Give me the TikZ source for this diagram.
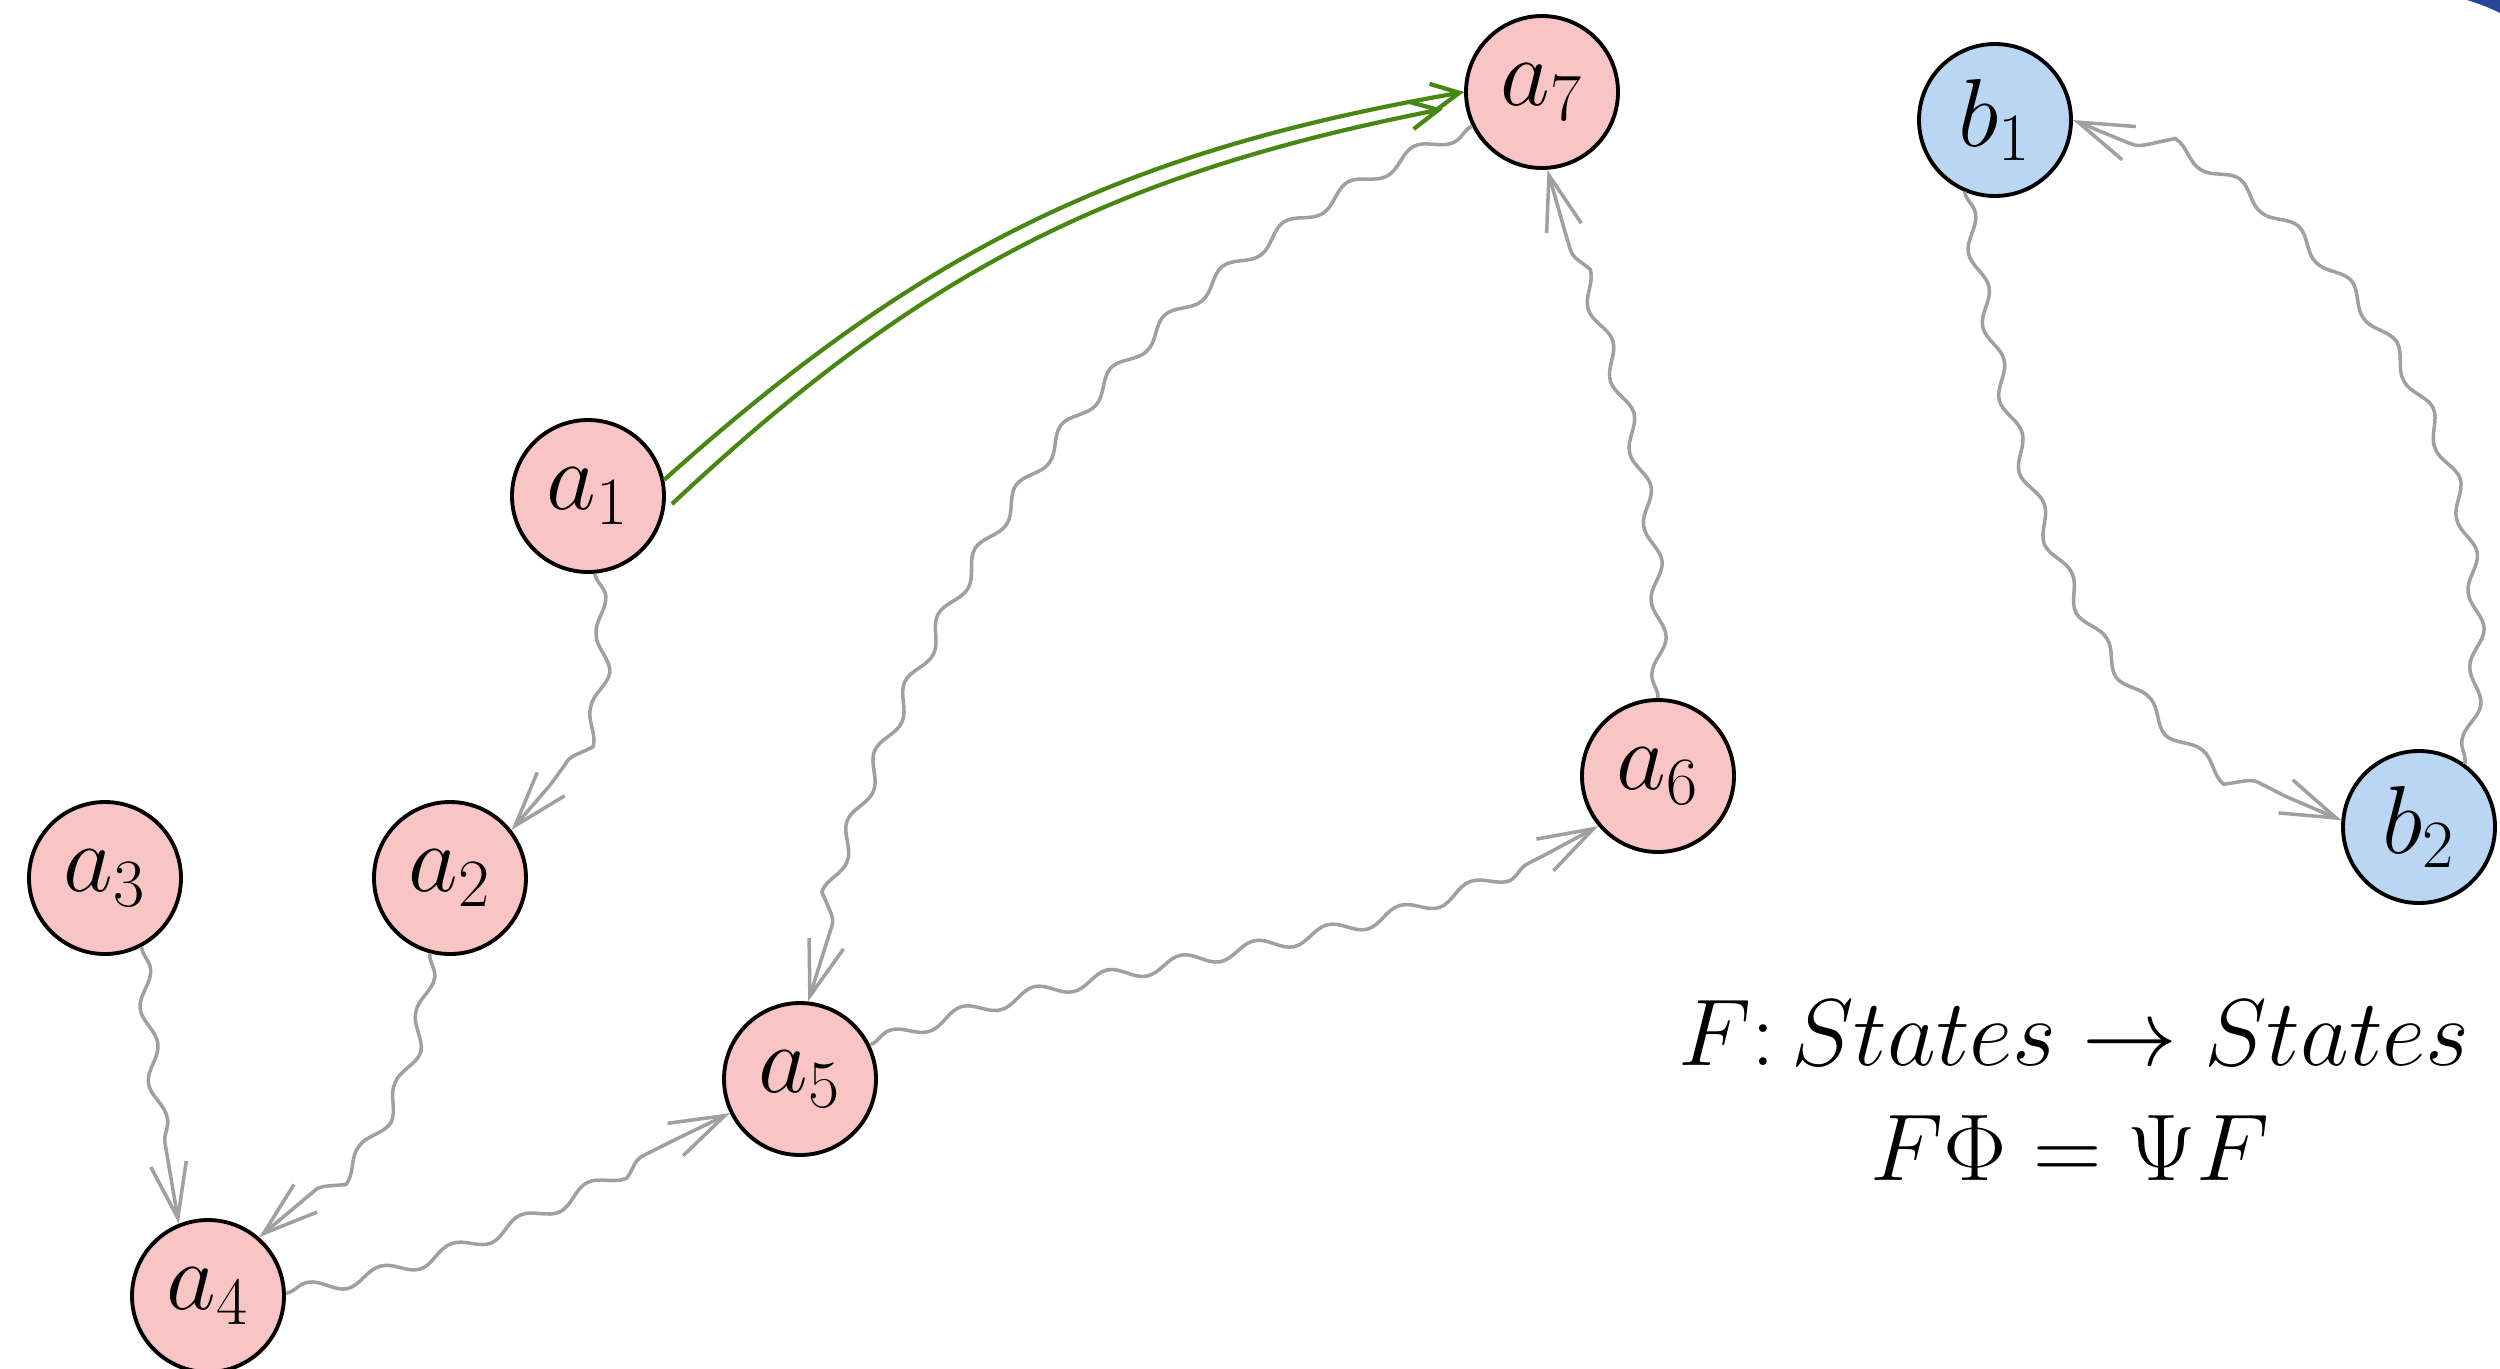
\RequirePackage{fix-cm}
\documentclass[tikz,border=0pt]{standalone}
\usetikzlibrary{arrows.meta,decorations.pathmorphing,calc}
\definecolor{nodepink}{RGB}{248,196,196}
\definecolor{nodeblue}{RGB}{186,214,242}
\definecolor{wavegray}{RGB}{160,160,160}
\definecolor{arrowgreen}{RGB}{72,135,18}
\definecolor{cornerblue}{RGB}{40,70,150}
\tikzset{
  state/.style={circle, draw=black, line width=1.1pt, minimum size=1.52cm, inner sep=0pt, font=\fontsize{27.5}{33}\selectfont},
  pinkstate/.style={state, fill=nodepink},
  bluestate/.style={state, fill=nodeblue},
  wave/.style={draw=wavegray, line width=1pt, -{Straight Barb[length=5.5mm,width=3.6mm]},
    decorate, decoration={snake, amplitude=0.7mm, segment length=7.5mm, post length=6mm}},
  imply/.style={draw=arrowgreen, line width=1.2pt, -{Straight Barb[length=2.8mm,width=2.8mm]}},
  formula/.style={anchor=base, inner sep=0pt, font=\fontsize{27}{33}\selectfont}
}
\begin{document}
\begin{tikzpicture}
\useasboundingbox (0,0) rectangle (25,-13.68);
\fill[white] (0,0) rectangle (25,-13.68);
\fill[cornerblue] (24.67,0) .. controls (24.8,-0.04) and (24.9,-0.08) .. (25,-0.13) -- (25,0) -- cycle;

\node[pinkstate] (a7) at (15.42,-0.92) {$a_7$};
\node[bluestate] (b1) at (19.95,-1.20) {$b_1$};
\node[pinkstate] (a1) at (5.88,-4.96) {$a_1$};
\node[pinkstate] (a6) at (16.58,-7.76) {$a_6$};
\node[bluestate] (b2) at (24.19,-8.27) {$b_2$};
\node[pinkstate] (a3) at (1.05,-8.78) {$a_3$};
\node[pinkstate] (a2) at (4.50,-8.78) {$a_2$};
\node[pinkstate] (a5) at (8.00,-10.79) {$a_5$};
\node[pinkstate] (a4) at (2.08,-12.96) {$a_4$};

\node[formula] (f1) at (20.74,-10.65) {$F\colon States \to States$};
\node[formula] (f2) at (20.70,-11.80) {$F\Phi = \Psi F$};

% green double arrow
\coordinate (g2s) at (6.72,-5.04);
\coordinate (g2e) at (14.43,-1.09);
\draw[imply] (a1.12) to[bend left=16] (a7.180);
\draw[imply] (g2s) to[bend left=16] (g2e);

% wavy arrows
\draw[wave] (a1.-85) to[out=-80,in=45] (a2.38);
\draw[wave] (a3.-62) to[out=-85,in=100] (a4.112);
\draw[wave] (a2.-105) to[out=-95,in=38] (a4.49);
\draw[wave] (a4.2) to[out=10,in=205] (a5.206);
\draw[wave] (a5.26) to[out=20,in=210] (a6.220);
\draw[wave] (a7.206) to[out=205,in=73] (a5.84);
\draw[wave] (a6.90) to[out=88,in=-75] (a7.-86);
\draw[wave] (b1.-113) to[out=-80,in=160] (b2.175);
\draw[wave] (b2.54) to[out=80,in=-20] (b1.0);
\end{tikzpicture}
\end{document}
